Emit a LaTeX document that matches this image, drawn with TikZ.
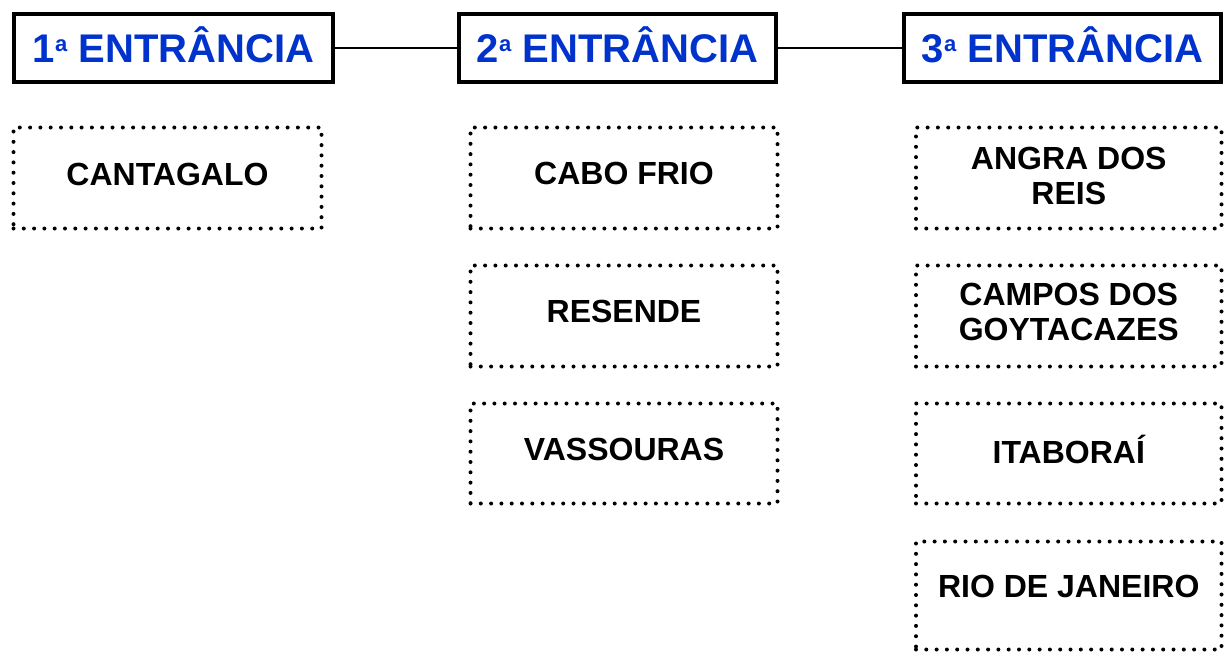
\documentclass[tikz,border=0pt]{standalone}
\usepackage{fontspec}
\setmainfont{Liberation Sans}
\definecolor{headblue}{RGB}{0,51,204}
\newcommand{\ordA}{\raisebox{10.5pt}{\fontsize{22}{22}\selectfont a}}
\tikzset{
  headbox/.style={draw=black, line width=4.5pt, minimum height=68pt, inner sep=0pt,
    font=\fontsize{40}{46}\selectfont\bfseries, text=headblue, text height=28.6pt, text depth=0pt},
  dotbox/.style={draw=black, line width=4pt, line cap=round, dash pattern=on 0pt off 10.3pt, inner sep=0pt},
  city/.style={font=\fontsize{32}{35}\selectfont\bfseries, text=black, inner sep=0pt, text height=22.9pt, text depth=0pt},
  city2/.style={font=\fontsize{32}{35}\selectfont\bfseries, text=black, inner sep=0pt, align=center},
  link/.style={draw=black, line width=2.2pt}
}
\begin{document}
\begin{tikzpicture}[x=1pt,y=-1pt]
\useasboundingbox[fill=white] (0,0) rectangle (1224,651);
% headers
\node[headbox, minimum width=319pt] (h1) at (173.5,48) {1\ordA\ ENTRÂNCIA};
\node[headbox, minimum width=317pt] (h2) at (617.5,48) {2\ordA\ ENTRÂNCIA};
\node[headbox, minimum width=317pt] (h3) at (1062.5,48) {3\ordA\ ENTRÂNCIA};
\draw[link] (h1.east) -- (h2.west);
\draw[link] (h2.east) -- (h3.west);
% column 1
\node[dotbox, minimum width=308pt, minimum height=101pt] (c1a) at (167.5,178) {};
\node[city] (t1a) at (167.5,174) {CANTAGALO};
% column 2
\node[dotbox, minimum width=307pt, minimum height=101pt] (c2a) at (624,178) {};
\node[city] (t2a) at (624,173.5) {CABO FRIO};
\node[dotbox, minimum width=307pt, minimum height=101pt] (c2b) at (624,316) {};
\node[city] (t2b) at (624,311) {RESENDE};
\node[dotbox, minimum width=307pt, minimum height=100pt] (c2c) at (624,453.5) {};
\node[city] (t2c) at (624,449) {VASSOURAS};
% column 3
\node[dotbox, minimum width=305.5pt, minimum height=101pt] (c3a) at (1068.75,178) {};
\node[city2] (t3a) at (1068.75,175.5) {ANGRA DOS\\REIS};
\node[dotbox, minimum width=305.5pt, minimum height=101pt] (c3b) at (1068.75,316) {};
\node[city2] (t3b) at (1068.75,311.5) {CAMPOS DOS\\GOYTACAZES};
\node[dotbox, minimum width=305.5pt, minimum height=100pt] (c3c) at (1068.75,453.5) {};
\node[city] (t3c) at (1068.75,452.5) {ITABORAÍ};
\node[dotbox, minimum width=305.5pt, minimum height=108pt] (c3d) at (1068.75,595.5) {};
\node[city] (t3d) at (1068.75,586.5) {RIO DE JANEIRO};
\end{tikzpicture}
\end{document}
